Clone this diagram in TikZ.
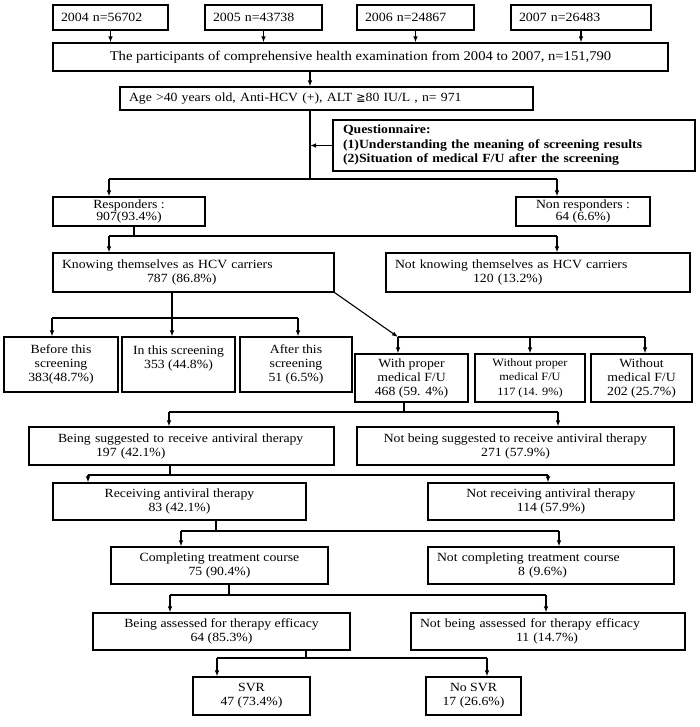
\documentclass[tikz,border=0pt]{standalone}
\usepackage{fontspec}
\setmainfont{Liberation Serif}[FakeStretch=1.1]
\newfontfamily\symf{DejaVu Sans}
\usetikzlibrary{arrows.meta}
\newcommand{\bxnode}[6][]{\node[bx,minimum width={#4-#2},minimum height={#5-#3},#1] (#6) at ({(#2+#4)/2},{(#3+#5)/2})}
\begin{document}
\begin{tikzpicture}[x=1pt,y=-1pt,
  bx/.style={draw, line width=1.1pt, inner sep=0pt, align=center, font=\fontsize{12.5}{14}\selectfont},
  lt/.style={align=left},
  yr/.style={lt, inner xsep=8pt, font=\fontsize{12.6}{14}\selectfont},
  ln/.style={line width=1.1pt},
  arr/.style={line width=1.1pt, -{Latex[length=6pt,width=4.5pt]}}]
\fill[white] (0,0) rectangle (700,727);
\useasboundingbox (0,0) rectangle (700,727);

% year boxes
\bxnode[yr, text width=99pt]{53}{5}{168}{30}{y04} {2004 n=56702};
\bxnode[yr, text width=101pt]{205}{5}{322}{30}{y05} {2005 n=43738};
\bxnode[yr, text width=101pt]{357}{5}{474}{30}{y06} {2006 n=24867};
\bxnode[yr, text width=124pt]{511}{5}{651}{30}{y07} {2007 n=26483};

\bxnode[font=\fontsize{13.3}{14}\selectfont]{53}{43}{668}{71}{big} {The participants of comprehensive health examination from 2004 to 2007, n=151,790};
\bxnode[lt, inner xsep=9pt, text width=395pt]{120}{87}{533}{110}{age} {Age >40 years old, Anti-HCV (+), ALT {\symf\fontsize{11}{14}\selectfont ≧}80 IU/L , n= 971};
\bxnode[lt, inner xsep=10pt, text width=342pt, font=\fontsize{12.5}{14.5}\selectfont\bfseries]{333}{120}{695}{171}{quest} {Questionnaire:\\(1)Understanding the meaning of screening results\\(2)Situation of medical F/U after the screening};

\bxnode[font=\fontsize{12.5}{11}\selectfont]{53}{197}{205}{226}{resp} {Responders :\\907(93.4\%)};
\bxnode[font=\fontsize{12.5}{11}\selectfont]{516}{197}{650}{226}{nonresp} {Non responders :\\64 (6.6\%)};

\bxnode[lt, inner xsep=9pt, text width=263pt]{53}{253}{334}{292}{know} {Knowing themselves as HCV carriers\\\hspace*{85pt}787 (86.8\%)};
\bxnode[lt, inner xsep=9pt, text width=286pt]{386}{253}{690}{292}{notknow} {Not knowing themselves as HCV carriers\\\hspace*{78pt}120 (13.2\%)};

\bxnode{4}{337}{118}{392}{before} {Before this\\screening\\383(48.7\%)};
\bxnode{122}{337}{235}{392}{inscr} {In this screening\\353 (44.8\%)\\~};
\bxnode{240}{337}{352}{392}{after} {After this\\screening\\51 (6.5\%)};

\bxnode{355}{354}{468}{402}{withp} {With proper\\medical F/U\\468 (59. 4\%)};
\bxnode[font=\fontsize{11.2}{14.5}\selectfont]{475}{354}{585}{402}{withoutp} {Without proper\\medical F/U\\117 (14. 9\%)};
\bxnode{591}{354}{692}{402}{without} {Without\\medical F/U\\202 (25.7\%)};

\bxnode[lt, inner xsep=29pt, text width=247pt]{29}{427}{334}{465}{sugg} {Being suggested to receive antiviral therapy\\\hspace*{38pt}197 (42.1\%)};
\bxnode{357}{427}{674}{465}{notsugg} {Not being suggested to receive antiviral therapy\\271 (57.9\%)};

\bxnode{53}{483}{306}{520}{recv} {Receiving antiviral therapy\\83 (42.1\%)};
\bxnode{428}{483}{674}{520}{notrecv} {Not receiving antiviral therapy\\114 (57.9\%)};

\bxnode{111}{547}{328}{584}{compl} {Completing treatment course\\75 (90.4\%)};
\bxnode[lt, inner xsep=9pt, text width=228pt]{428}{547}{674}{584}{notcompl} {Not completing treatment course\\\hspace*{81pt}8 (9.6\%)};

\bxnode{93}{613}{350}{650}{assess} {Being assessed for therapy efficacy\\64 (85.3\%)};
\bxnode[lt, inner xsep=9pt, text width=256pt]{411}{613}{685}{650}{notassess} {Not being assessed for therapy efficacy\\\hspace*{96pt}11 (14.7\%)};

\bxnode{193}{677}{310}{715}{svr} {SVR\\47 (73.4\%)};
\bxnode{426}{677}{521}{715}{nosvr} {No SVR\\17 (26.6\%)};

% junction coordinates
\coordinate (j1) at (310,179); \coordinate (j1l) at (109,179); \coordinate (j1r) at (557,179);
\coordinate (j2) at (134,236); \coordinate (j2l) at (109,236); \coordinate (j2r) at (557,236);
\coordinate (j3) at (172,318); \coordinate (j3l) at (52,318); \coordinate (j3r) at (298,318);
\coordinate (j4l) at (398,337); \coordinate (j4m) at (530,337); \coordinate (j4r) at (645,337);
\coordinate (j5) at (404,412); \coordinate (j5l) at (169,412); \coordinate (j5r) at (558,412);
\coordinate (j6) at (170,475); \coordinate (j6l) at (88,475); \coordinate (j6r) at (548,475);
\coordinate (j7) at (216,531); \coordinate (j7l) at (181,531); \coordinate (j7r) at (559,531);
\coordinate (j8) at (229,595); \coordinate (j8l) at (170,595); \coordinate (j8r) at (546,595);
\coordinate (j9) at (306,658); \coordinate (j9l) at (217,658); \coordinate (j9r) at (487,658);

% connectors
\foreach \n in {y04,y05,y06,y07} \draw[arr] (\n.south) -- (\n.south |- big.north);
\draw[arr] (big.south -| j1) -- (age.north -| j1);
\draw[ln] (age.south -| j1) -- (j1);
\draw[arr] (quest.west) -- (quest.west -| j1);
\draw[ln] (j1l) -- (j1r);
\draw[arr] (j1l) -- (j1l |- resp.north);
\draw[arr] (j1r) -- (j1r |- nonresp.north);

\draw[ln] (resp.south -| j2) -- (j2);
\draw[ln] (j2l) -- (j2r);
\draw[arr] (j2l) -- (j2l |- know.north);
\draw[arr] (j2r) -- (j2r |- notknow.north);

\draw[arr] (know.south -| j3) -- (j3 |- inscr.north);
\draw[ln] (j3l) -- (j3r);
\draw[arr] (j3l) -- (j3l |- before.north);
\draw[arr] (j3r) -- (j3r |- after.north);

\draw[arr] (know.south east) -- (j4l);
\draw[ln] (j4l) -- (j4r);
\draw[arr] (j4l) -- (j4l |- withp.north);
\draw[arr] (j4m) -- (j4m |- withoutp.north);
\draw[arr] (j4r) -- (j4r |- without.north);

\draw[ln] (withp.south -| j5) -- (j5);
\draw[ln] (j5l) -- (j5r);
\draw[arr] (j5l) -- (j5l |- sugg.north);
\draw[arr] (j5r) -- (j5r |- notsugg.north);

\draw[ln] (sugg.south -| j6) -- (j6);
\draw[ln] (j6l) -- (j6r);
\draw[arr] (j6l) -- (j6l |- recv.north);
\draw[arr] (j6r) -- (j6r |- notrecv.north);

\draw[ln] (recv.south -| j7) -- (j7);
\draw[ln] (j7l) -- (j7r);
\draw[arr] (j7l) -- (j7l |- compl.north);
\draw[arr] (j7r) -- (j7r |- notcompl.north);

\draw[ln] (compl.south -| j8) -- (j8);
\draw[ln] (j8l) -- (j8r);
\draw[arr] (j8l) -- (j8l |- assess.north);
\draw[arr] (j8r) -- (j8r |- notassess.north);

\draw[ln] (assess.south -| j9) -- (j9);
\draw[ln] (j9l) -- (j9r);
\draw[arr] (j9l) -- (j9l |- svr.north);
\draw[arr] (j9r) -- (j9r |- nosvr.north);
\end{tikzpicture}
\end{document}
